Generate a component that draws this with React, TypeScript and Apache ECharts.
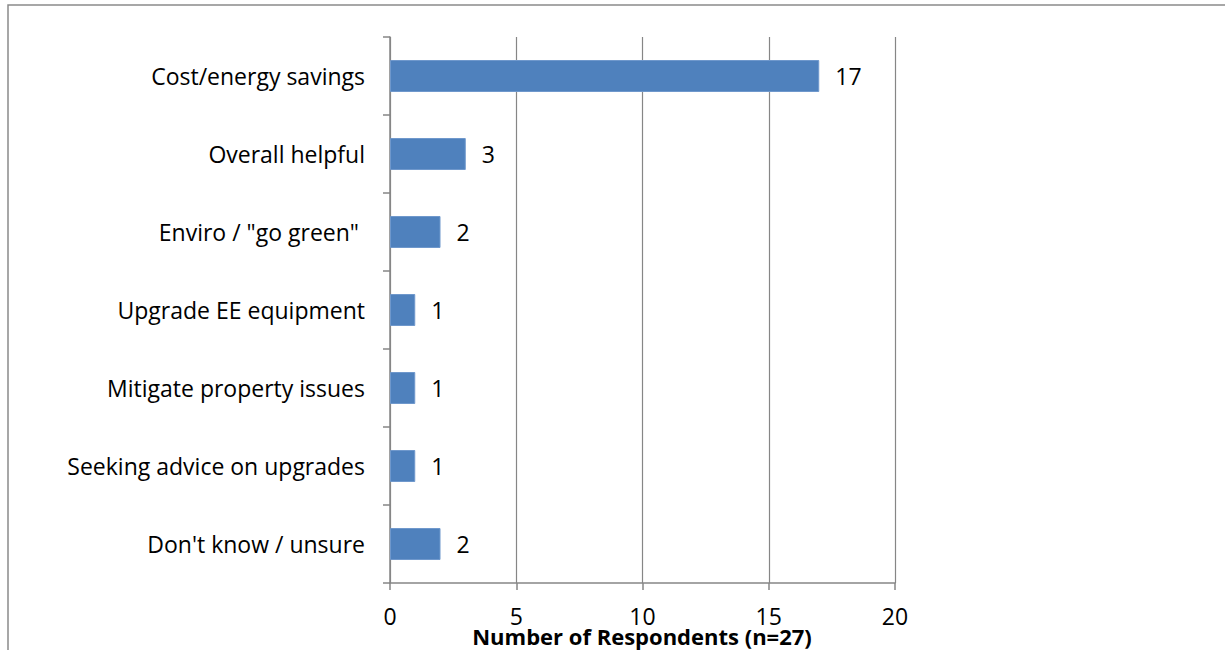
import React, { useEffect, useRef } from "react";
import * as echarts from "echarts";

const categories = [
  "Cost/energy savings",
  "Overall helpful",
  "Enviro / \"go green\" ",
  "Upgrade EE equipment",
  "Mitigate property issues",
  "Seeking advice on upgrades",
  "Don't know / unsure",
];
const values = [17, 3, 2, 1, 1, 1, 2];
const axisName = "Number of Respondents (n=27)";

const FONT = "'Open Sans', sans-serif";

export default function App() {
  const ref = useRef<HTMLDivElement>(null);
  useEffect(() => {
    if (!ref.current) return;
    const chart = echarts.init(ref.current, undefined, { renderer: "svg" });
    chart.setOption({
      animation: false,
      backgroundColor: "#fff",
      graphic: [
        {
          type: "rect",
          shape: { x: 8, y: 5, width: 1300, height: 700 },
          style: { fill: "none", stroke: "#8a8a8a", lineWidth: 1.5 },
          silent: true,
        },
        {
          type: "text",
          x: 642,
          y: 636,
          style: {
            text: axisName,
            fontFamily: FONT,
            fontSize: 22,
            fontWeight: "bold",
            fill: "#000",
            align: "center",
            verticalAlign: "middle",
          },
          silent: true,
        },
      ],
      grid: { left: 390, right: 330, top: 37, bottom: 67, containLabel: false, outerBoundsMode: "none" },
      xAxis: {
        type: "value",
        min: 0,
        max: 20,
        interval: 5,
        axisLine: { show: true, lineStyle: { color: "#868686", width: 1.5 } },
        axisTick: { show: true, length: 7, lineStyle: { color: "#868686", width: 1.5 } },
        axisLabel: { fontFamily: FONT, fontSize: 23, color: "#000", margin: 21 },
        splitLine: { show: true, lineStyle: { color: "#868686", width: 1.2 } },
      },
      yAxis: {
        type: "category",
        data: categories,
        inverse: true,
        axisLine: { show: true, lineStyle: { color: "#868686", width: 1.5 } },
        axisTick: { show: true, length: 7, alignWithLabel: false, lineStyle: { color: "#868686", width: 1.5 } },
        axisLabel: { fontFamily: FONT, fontSize: 23, color: "#000", margin: 25 },
        splitLine: { show: false },
      },
      series: [
        {
          type: "bar",
          data: values,
          barWidth: 32,
          itemStyle: { color: "#4F81BD", borderColor: "#6f98cc", borderWidth: 1 },
          label: {
            show: true,
            position: "right",
            distance: 16,
            fontFamily: FONT,
            fontSize: 23,
            color: "#000",
          },
        },
      ],
    });
    return () => chart.dispose();
  }, []);
  return (
    <div
      ref={ref}
      style={{ position: "absolute", left: 0, top: 0, width: 1225, height: 650 }}
    />
  );
}
